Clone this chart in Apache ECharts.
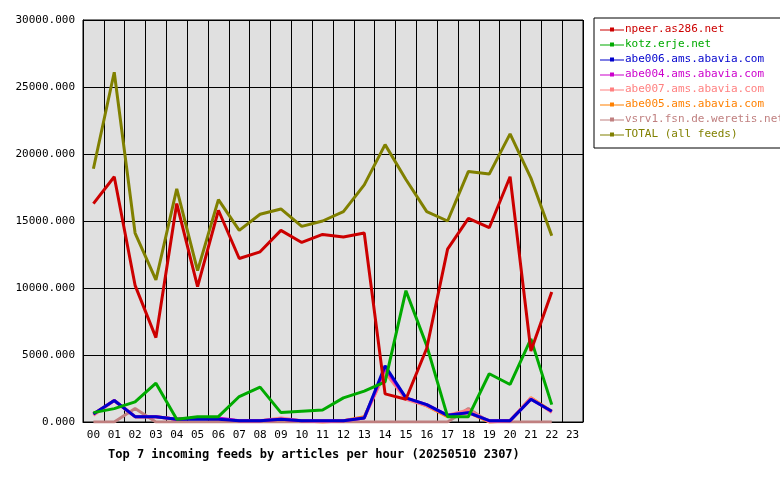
<!DOCTYPE html>
<html><head><meta charset="utf-8">
<script src="https://cdn.jsdelivr.net/npm/echarts@6/dist/echarts.min.js"></script>
<style>body{margin:0;background:#fff}#c{width:780px;height:480px}</style>
</head><body><div id="c"></div>
<script>
const hours = ['00','01','02','03','04','05','06','07','08','09','10','11','12','13','14','15','16','17','18','19','20','21','22','23'];
const names = ['npeer.as286.net','kotz.erje.net','abe006.ams.abavia.com','abe004.ams.abavia.com','abe007.ams.abavia.com','abe005.ams.abavia.com','vsrv1.fsn.de.weretis.net','TOTAL (all feeds)'];
const colors = ['#cc0000','#00aa00','#0000cc','#cc00cc','#ff8080','#ff8000','#c08080','#808000'];
const npeer = [16300,18300,10200,6300,16300,10100,15800,12200,12700,14300,13400,14000,13800,14100,2100,1700,5500,12900,15200,14500,18300,5300,9700];
const kotz = [700,1000,1500,2900,200,400,400,1900,2600,700,800,900,1800,2300,3000,9800,5700,400,400,3600,2800,6200,1300];
const abe006 = [600,1600,400,400,200,200,200,100,100,200,100,100,100,300,4200,1800,1300,500,700,100,100,1700,800];
const abe004 = [600,1600,400,400,200,300,300,100,100,200,100,100,100,300,4000,1800,1300,500,700,100,100,1700,800];
const abe007 = [500,1600,400,400,200,300,200,100,100,300,100,0,100,300,3700,1700,1200,500,900,0,100,1800,700];
const abe005 = [600,1600,400,400,200,300,200,100,100,200,100,0,100,400,3700,1800,1200,400,700,0,100,1800,800];
const vsrv1 = [0,0,1000,0,0,0,0,0,0,0,0,0,0,0,0,0,0,0,1000,0,0,0,0];
const total = [18900,26100,14100,10600,17400,11300,16600,14300,15500,15900,14600,15000,15700,17700,20700,18100,15700,15000,18700,18500,21500,18200,13900];
const yTicks = {min:0,max:30000,interval:5000};
const title = 'Top 7 incoming feeds by articles per hour (20250510 2307)';
const all = [npeer,kotz,abe006,abe004,abe007,abe005,vsrv1,total];
const font = 'DejaVu Sans Mono';
const icon = 'path://M0,5 L10,5 L10,3 L14,3 L14,7 L10,7 L10,5 L14,5 L14,5 L24,5 L24,6 L0,6 Z';
const chart = echarts.init(document.getElementById('c'));
chart.setOption({
  animation:false,
  title:{text:title,left:103,top:444,textStyle:{fontFamily:font,fontSize:12,fontWeight:'bold',color:'#000'}},
  grid:{left:83,top:20,width:500,height:402,show:true,backgroundColor:'#e0e0e0',borderColor:'#000',borderWidth:1},
  legend:{orient:'vertical',left:594,top:18,width:180,padding:[6,6,8,6],itemGap:4,itemWidth:24,itemHeight:8,
    borderColor:'#000',borderWidth:1,icon:icon,
    data:names.map((n,i)=>({name:n,textStyle:{color:colors[i]}})),
    textStyle:{fontFamily:font,fontSize:11,padding:[0,0,0,-4]}},
  xAxis:{type:'category',data:hours,boundaryGap:true,
    axisLine:{lineStyle:{color:'#000'}},axisTick:{show:false,alignWithLabel:true},
    axisLabel:{fontFamily:font,fontSize:11,color:'#000',interval:0,margin:8},
    splitLine:{show:true,interval:0,lineStyle:{color:'#000',width:1}}},
  yAxis:{type:'value',min:yTicks.min,max:yTicks.max,interval:yTicks.interval,
    axisLine:{show:true,lineStyle:{color:'#000'}},axisTick:{show:false},
    axisLabel:{fontFamily:font,fontSize:11,color:'#000',formatter:v=>v.toFixed(3)},
    splitLine:{lineStyle:{color:'#000',width:1}}},
  series:all.map((d,i)=>({name:names[i],type:'line',data:d,symbol:'none',color:colors[i],
    lineStyle:{width:3,color:colors[i]},z:10-i}))
});
</script></body></html>
